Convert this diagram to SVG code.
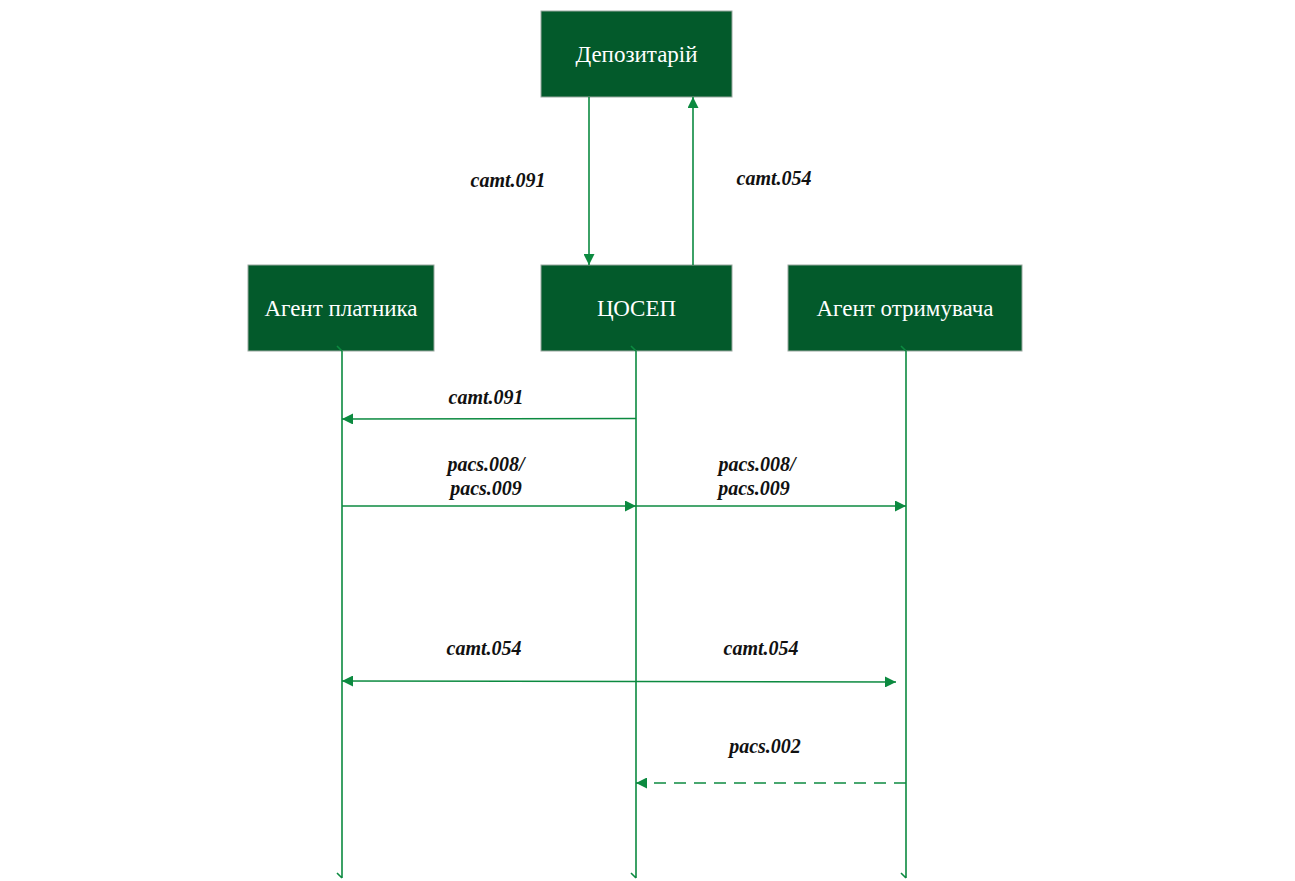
<svg xmlns="http://www.w3.org/2000/svg" width="1295" height="881" viewBox="0 0 1295 881">
<style>
.box{fill:#035a2b;stroke:#9aa8a0;stroke-width:1}
.nt{font-family:"Liberation Serif","DejaVu Serif",serif;font-size:23px;fill:#ffffff;text-anchor:middle}
.ln{stroke:#0c8a40;stroke-width:1.6;fill:none}
.lb{font-family:"Liberation Serif","DejaVu Serif",serif;font-size:20px;font-weight:bold;font-style:italic;fill:#111;text-anchor:middle}
</style>
<defs>
<marker id="ah" viewBox="0 0 10 10" refX="10" refY="5" markerWidth="12" markerHeight="11" markerUnits="userSpaceOnUse" orient="auto"><path d="M0,0 L10,5 L0,10 Z" fill="#0c8a40"/></marker>
<marker id="ahs" viewBox="0 0 10 10" refX="0" refY="5" markerWidth="12" markerHeight="11" markerUnits="userSpaceOnUse" orient="auto"><path d="M10,0 L0,5 L10,10 Z" fill="#0c8a40"/></marker>
</defs>
<rect width="1295" height="881" fill="#fff"/>
<g id="depository"><rect class="box" x="541" y="11" width="191" height="86"/><text class="nt" x="636.5" y="62">Депозитарій</text></g>
<g id="payer-agent"><rect class="box" x="248" y="265" width="186" height="86"/><text class="nt" x="341" y="316">Агент платника</text></g>
<g id="csep"><rect class="box" x="541" y="265" width="191" height="86"/><text class="nt" x="636.5" y="316">ЦОСЕП</text></g>
<g id="payee-agent"><rect class="box" x="788" y="265" width="234" height="86"/><text class="nt" x="905" y="316">Агент отримувача</text></g>
<g id="connectors">
<line class="ln" x1="589" y1="97" x2="589" y2="265" marker-end="url(#ah)"/>
<line class="ln" x1="693" y1="265" x2="693" y2="97" marker-end="url(#ah)"/>
<path class="ln" d="M342,351 V878 M337,346 L342,351 M337,873 L342,878"/>
<path class="ln" d="M636,351 V878 M631,346 L636,351 M631,873 L636,878"/>
<path class="ln" d="M906,351 V878 M901,346 L906,351 M901,873 L906,878"/>
<line class="ln" x1="636" y1="418.5" x2="342" y2="419" marker-end="url(#ah)"/>
<line class="ln" x1="342" y1="506" x2="636" y2="506" marker-end="url(#ah)"/>
<line class="ln" x1="636" y1="506" x2="906" y2="506" marker-end="url(#ah)"/>
<line class="ln" x1="342" y1="681" x2="896" y2="682" marker-start="url(#ahs)" marker-end="url(#ah)"/>
<line class="ln" x1="906" y1="783" x2="636" y2="783" stroke-dasharray="12,8" marker-end="url(#ah)"/>
<text class="lb" x="508" y="187">camt.091</text>
<text class="lb" x="774" y="185">camt.054</text>
<text class="lb" x="486" y="404">camt.091</text>
<text class="lb" x="486" y="471">pacs.008/</text>
<text class="lb" x="486" y="495">pacs.009</text>
<text class="lb" x="757" y="471">pacs.008/</text>
<text class="lb" x="754" y="495">pacs.009</text>
<text class="lb" x="484" y="655">camt.054</text>
<text class="lb" x="761" y="655">camt.054</text>
<text class="lb" x="765" y="753">pacs.002</text>
</g>
</svg>
